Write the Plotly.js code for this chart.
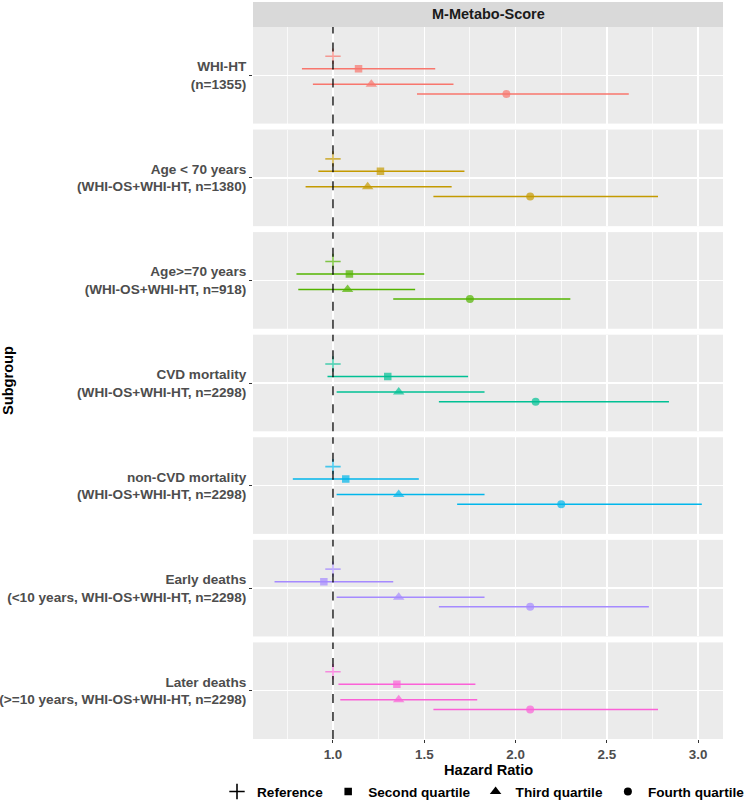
<!DOCTYPE html>
<html><head><meta charset="utf-8">
<script src="https://cdn.plot.ly/plotly-3.0.1.min.js"></script>
<style>body{margin:0;background:#fff}</style>
</head><body><div id="chart" style="width:750px;height:809px"></div>
<script>
const subgroups = [
  "WHI-HT<br>(n=1355)",
  "Age < 70 years<br>(WHI-OS+WHI-HT, n=1380)",
  "Age>=70 years<br>(WHI-OS+WHI-HT, n=918)",
  "CVD mortality<br>(WHI-OS+WHI-HT, n=2298)",
  "non-CVD mortality<br>(WHI-OS+WHI-HT, n=2298)",
  "Early deaths<br>(<10 years, WHI-OS+WHI-HT, n=2298)",
  "Later deaths<br>(>=10 years, WHI-OS+WHI-HT, n=2298)"
];
const quartiles = ["Reference", "Second quartile", "Third quartile", "Fourth quartile"];
const colors = ["#F8766D", "#C49A00", "#53B400", "#00C094", "#00B6EB", "#A58AFF", "#FB61D7"];
const hr = [
  [1, 1.14, 1.21, 1.95],
  [1, 1.26, 1.19, 2.08],
  [1, 1.09, 1.08, 1.75],
  [1, 1.30, 1.36, 2.11],
  [1, 1.07, 1.36, 2.25],
  [1, 0.95, 1.36, 2.08],
  [1, 1.35, 1.36, 2.08]
];
const lower = [
  [1, 0.83, 0.89, 1.46],
  [1, 0.92, 0.85, 1.55],
  [1, 0.80, 0.81, 1.33],
  [1, 0.97, 1.02, 1.58],
  [1, 0.78, 1.02, 1.68],
  [1, 0.68, 1.02, 1.58],
  [1, 1.03, 1.04, 1.55]
];
const upper = [
  [1, 1.56, 1.66, 2.62],
  [1, 1.72, 1.65, 2.78],
  [1, 1.50, 1.45, 2.30],
  [1, 1.74, 1.83, 2.84],
  [1, 1.47, 1.83, 3.02],
  [1, 1.33, 1.83, 2.73],
  [1, 1.78, 1.79, 2.78]
];
const xTicks = [1.0, 1.5, 2.0, 2.5, 3.0];

// styling / dodge positions (not data)
const dodge = [0.236, 0.081, -0.112, -0.232];
const symbols = ["cross-thin-open", "square", "triangle-up", "circle"];
const sizes = [11, 7.5, 10, 8];
const lineW = [1.6, 0, 0, 0];

const FONT = "Liberation Sans, Arial, Helvetica, sans-serif";
const H = 809, T = 2, B = 70;
const plotH = H - T - B; // 737
const stripPx = 25, gapPx = 6;
const nP = subgroups.length;
const panelPx = (plotH - stripPx - gapPx * (nP - 1)) / nP;

const traces = [];
const layout = {
  width: 750, height: 809,
  margin: {l: 253, r: 27, t: T, b: B},
  paper_bgcolor: "#FFFFFF",
  plot_bgcolor: "#EBEBEB",
  font: {family: FONT, color: "#000"},
  showlegend: true,
  legend: {
    orientation: "h", x: -0.012, xanchor: "left", y: -0.0925, yanchor: "bottom",
    font: {family: FONT, size: 13.6, weight: "bold", color: "#000"},
    itemwidth: 30, tracegroupgap: 0, bgcolor: "rgba(0,0,0,0)"
  },
  xaxis: {
    anchor: "y" + nP, domain: [0, 1], range: [0.562, 3.136],
    tickmode: "array", tickvals: xTicks, ticktext: xTicks.map(v => v.toFixed(1)),
    ticks: "outside", ticklen: 3, tickcolor: "#333333", tickwidth: 1,
    tickfont: {family: FONT, size: 13.4, weight: "bold", color: "#4D4D4D"},
    showgrid: true, gridcolor: "#FFFFFF", gridwidth: 1.4,
    minor: {tickvals: [0.75, 1.25, 1.75, 2.25, 2.75], showgrid: true, gridcolor: "#FFFFFF", gridwidth: 0.7, ticks: ""},
    zeroline: false, showline: false, fixedrange: true
  },
  shapes: [],
  annotations: []
};

for (let i = 0; i < nP; i++) {
  const topPx = stripPx + i * (panelPx + gapPx);
  const botPx = topPx + panelPx;
  const key = i === 0 ? "yaxis" : "yaxis" + (i + 1);
  const ref = i === 0 ? "y" : "y" + (i + 1);
  layout[key] = {
    anchor: "x",
    domain: [1 - botPx / plotH, 1 - topPx / plotH],
    range: [-0.6, 0.6],
    tickmode: "array", tickvals: [0], ticktext: [subgroups[i]],
    ticks: "outside", ticklen: 3, tickcolor: "#333333",
    tickfont: {family: FONT, size: 13.6, weight: "bold", color: "#4D4D4D"},
    showgrid: true, gridcolor: "#FFFFFF", gridwidth: 1.4,
    zeroline: false, showline: false, fixedrange: true
  };
  layout.shapes.push({
    type: "line", xref: "x", yref: ref + " domain",
    x0: 1, x1: 1, y0: 0, y1: 1,
    line: {color: "#000000", width: 1.3, dash: "dash"}, layer: "above"
  });
  traces.push({
    type: "scatter", mode: "markers",
    x: hr[i], y: dodge,
    xaxis: "x", yaxis: ref,
    showlegend: false, hoverinfo: "skip",
    error_x: {
      type: "data", symmetric: false,
      array: hr[i].map((v, j) => upper[i][j] - v),
      arrayminus: hr[i].map((v, j) => v - lower[i][j]),
      width: 0, thickness: 1.5, color: colors[i]
    },
    marker: {symbol: symbols, size: sizes, color: colors[i], line: {color: colors[i], width: lineW}}
  });
}

// strip
layout.shapes.push({
  type: "rect", xref: "paper", yref: "paper",
  x0: 0, x1: 1, y0: 1 - stripPx / plotH, y1: 1,
  fillcolor: "#D9D9D9", line: {width: 0}, layer: "below"
});
layout.annotations.push({
  text: "M-Metabo-Score", xref: "paper", yref: "paper",
  x: 0.5, y: 1 - stripPx / plotH / 2, xanchor: "center", yanchor: "middle",
  showarrow: false, font: {family: FONT, size: 14.5, weight: "bold", color: "#1A1A1A"}
});
// x axis title
layout.annotations.push({
  text: "Hazard Ratio", xref: "paper", yref: "paper",
  x: 0.5, y: (plotH + T - 770) / plotH, xanchor: "center", yanchor: "middle",
  showarrow: false, font: {family: FONT, size: 14.6, weight: "bold", color: "#000"}
});
// y axis title
layout.annotations.push({
  text: "Subgroup", xref: "paper", yref: "paper",
  x: -245 / 470, y: (plotH + T - 380) / plotH,
  xanchor: "center", yanchor: "middle", textangle: -90,
  showarrow: false, font: {family: FONT, size: 14.6, weight: "bold", color: "#000"}
});

// legend entries (shape legend)
quartiles.forEach((q, j) => {
  traces.push({
    type: "scatter", mode: "markers", name: q,
    x: [null], y: [null], xaxis: "x", yaxis: "y" + nP,
    showlegend: true, hoverinfo: "skip",
    marker: {symbol: symbols[j], size: sizes[j], color: "#000", line: {color: "#000", width: lineW[j]}}
  });
});

Plotly.newPlot("chart", traces, layout, {displayModeBar: false, staticPlot: true});
</script>
</body></html>
